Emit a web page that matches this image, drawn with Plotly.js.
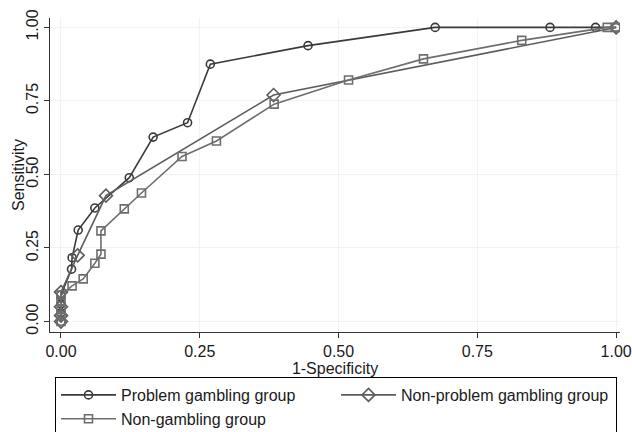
<!DOCTYPE html>
<html>
<head>
<meta charset="utf-8">
<script src="https://cdn.plot.ly/plotly-3.0.1.min.js"></script>
<style>html,body{margin:0;padding:0;background:#fff}#chart{width:632px;height:432px}</style>
</head>
<body>
<div id="chart"></div>
<script>
// Problem gambling group (circles)
var pgX = [0, 0, 0, 0, 0.019, 0.020, 0.031, 0.061, 0.123, 0.166, 0.228, 0.269, 0.445, 0.674, 0.881, 0.963, 1.0];
var pgY = [0, 0.03, 0.06, 0.09, 0.178, 0.217, 0.311, 0.386, 0.489, 0.627, 0.676, 0.875, 0.938, 1.0, 1.0, 1.0, 1.0];
// Non-problem gambling group (diamonds)
var npX = [0, 0, 0, 0, 0.030, 0.081, 0.383, 1.0];
var npY = [0, 0.02, 0.05, 0.10, 0.225, 0.428, 0.770, 1.0];
// Non-gambling group (squares)
var ngX = [0, 0, 0, 0, 0, 0.020, 0.040, 0.061, 0.072, 0.072, 0.114, 0.145, 0.218, 0.280, 0.384, 0.518, 0.653, 0.830, 0.984, 1.0];
var ngY = [0, 0.02, 0.04, 0.07, 0.09, 0.121, 0.145, 0.198, 0.229, 0.308, 0.383, 0.437, 0.561, 0.614, 0.739, 0.821, 0.893, 0.956, 1.0, 1.0];
var tickVals = [0, 0.25, 0.5, 0.75, 1];
var tickText = ['0.00', '0.25', '0.50', '0.75', '1.00'];

var font = 'Liberation Sans, Arial, sans-serif';
var traces = [
  {x: pgX, y: pgY, name: 'Problem gambling group', mode: 'lines+markers',
   line: {color: '#3a3a3a', width: 1.6},
   marker: {symbol: 'circle-open', size: 8, color: '#3a3a3a', line: {width: 1.6, color: '#3a3a3a'}}},
  {x: npX, y: npY, name: 'Non-problem gambling group', mode: 'lines+markers',
   line: {color: '#5c5c5c', width: 1.6},
   marker: {symbol: 'diamond-open', size: 10, color: '#5c5c5c', line: {width: 1.6, color: '#5c5c5c'}}},
  {x: ngX, y: ngY, name: 'Non-gambling group', mode: 'lines+markers',
   line: {color: '#6e6e6e', width: 1.6},
   marker: {symbol: 'square-open', size: 8, color: '#6e6e6e', line: {width: 1.6, color: '#6e6e6e'}}}
];
var layout = {
  width: 632, height: 432,
  margin: {l: 50, r: 12, t: 18, b: 100},
  paper_bgcolor: '#fff', plot_bgcolor: '#fff',
  font: {family: font, size: 16, color: '#1a1a1a'},
  showlegend: true,
  xaxis: {
    range: [-0.0198, 1.007], tickvals: tickVals, ticktext: tickText,
    showline: true, linecolor: '#333', linewidth: 1, zeroline: false,
    ticks: 'outside', ticklen: 5, tickcolor: '#333',
    showgrid: true, gridcolor: '#f2f2f2', automargin: false,
    title: {text: '1-Specificity', font: {size: 16}, standoff: 0}
  },
  yaxis: {
    range: [-0.0357, 1.032], tickvals: tickVals, ticktext: tickText, tickangle: -90,
    showline: true, linecolor: '#333', linewidth: 1, zeroline: false,
    ticks: 'outside', ticklen: 5, tickcolor: '#333',
    showgrid: true, gridcolor: '#f2f2f2', automargin: false
  },
  annotations: [
    {text: 'Sensitivity', xref: 'paper', yref: 'paper', x: -32 / 570, y: 0.5,
     xanchor: 'center', yanchor: 'middle', textangle: -90, showarrow: false,
     font: {size: 16}}
  ],
  legend: {
    orientation: 'h', xref: 'container', yref: 'container',
    x: 55 / 632, xanchor: 'left', y: (432 - 377) / 432, yanchor: 'top',
    bordercolor: '#000', borderwidth: 1, bgcolor: '#fff',
    font: {size: 16}, itemwidth: 55, entrywidth: 210
  }
};
Plotly.newPlot('chart', traces, layout, {staticPlot: true});
</script>
</body>
</html>
